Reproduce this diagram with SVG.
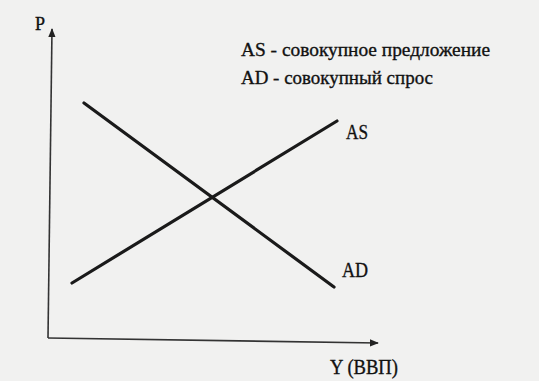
<svg xmlns="http://www.w3.org/2000/svg" width="539" height="381" viewBox="0 0 539 381">
  <defs>
    <marker id="arr" viewBox="0 0 10 10" refX="9" refY="5" markerWidth="9" markerHeight="9" markerUnits="userSpaceOnUse" orient="auto">
      <path d="M0,1 L10,5 L0,9 Z" fill="#222"/>
    </marker>
    <style>
      .txt { font-family: 'Liberation Serif', 'Times New Roman', serif; fill: #111; stroke: #111; stroke-width: 0.35; }
      .axis { stroke: #333; stroke-width: 1.6; fill: none; }
      .curve { stroke: #1a1a1a; stroke-width: 3.2; stroke-linecap: round; fill: none; }
    </style>
  </defs>
  <rect x="0" y="0" width="539" height="381" fill="#f1f1f0"/>
  <g id="connectors">
    <line class="axis" x1="48" y1="338" x2="52" y2="29" marker-end="url(#arr)"/>
    <line class="axis" x1="48" y1="338" x2="378" y2="343" marker-end="url(#arr)"/>
    <line id="as-line" class="curve" x1="72" y1="283" x2="337" y2="121"/>
    <line id="ad-line" class="curve" x1="84" y1="103" x2="334" y2="287"/>
  </g>
  <g id="label-p"><text class="txt" x="35" y="30" font-size="18">P</text></g>
  <g id="legend">
    <text class="txt" x="241" y="56" font-size="19" textLength="249" lengthAdjust="spacingAndGlyphs">AS - совокупное предложение</text>
    <text class="txt" x="241" y="84" font-size="19" textLength="192" lengthAdjust="spacingAndGlyphs">AD - совокупный спрос</text>
  </g>
  <g id="label-as"><text class="txt" x="346" y="139" font-size="20" textLength="22" lengthAdjust="spacingAndGlyphs">AS</text></g>
  <g id="label-ad"><text class="txt" x="342" y="277" font-size="20" textLength="26" lengthAdjust="spacingAndGlyphs">AD</text></g>
  <g id="label-y"><text class="txt" x="330" y="374" font-size="20" textLength="68" lengthAdjust="spacingAndGlyphs">Y (ВВП)</text></g>
</svg>
